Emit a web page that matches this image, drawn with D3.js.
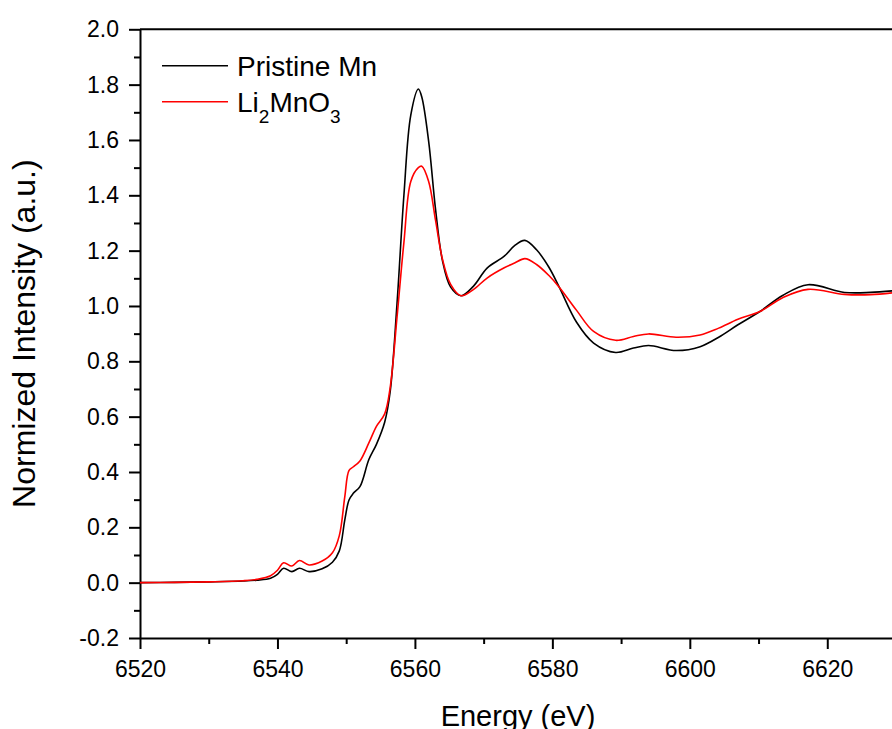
<!DOCTYPE html>
<html>
<head>
<meta charset="utf-8">
<script src="https://cdn.jsdelivr.net/npm/d3@7"></script>
<style>
  body { margin: 0; background: #fff; }
  svg { display: block; font-family: "Liberation Sans", Arial, sans-serif; }
  .axis path, .axis line { stroke: #000; stroke-width: 2px; }
  .axis text { font-size: 23px; fill: #000; font-family: "Liberation Sans", Arial, sans-serif; }
</style>
</head>
<body>
<div id="chart"></div>
<script>
// energy grid (eV)
var energy = [6520, 6525, 6530, 6535, 6537, 6539, 6540, 6540.9, 6542.1, 6543.2, 6544.6, 6546.5,
  6548, 6549, 6549.8, 6550.4, 6551, 6552, 6553.3, 6554.4, 6555.6, 6556.4, 6557.4, 6558.4,
  6559.4, 6560.5, 6561, 6562, 6563, 6564, 6565.2, 6566.7, 6568.5, 6570.5, 6573, 6574.5,
  6576, 6577.7, 6579.5, 6581, 6583.5, 6586, 6589.2, 6591.8, 6594, 6598, 6601.5, 6604.2,
  6607, 6610.2, 6613.5, 6617.2, 6622.5, 6626.3, 6630];

// Pristine Mn
var pristine = [0.000, 0.001, 0.003, 0.006, 0.009, 0.016, 0.030, 0.052, 0.040, 0.052, 0.040, 0.050,
  0.074, 0.115, 0.227, 0.298, 0.322, 0.347, 0.445, 0.500, 0.580, 0.690, 1.010, 1.400,
  1.690, 1.784, 1.755, 1.595, 1.350, 1.165, 1.068, 1.037, 1.071, 1.137, 1.180, 1.218,
  1.237, 1.203, 1.140, 1.068, 0.942, 0.866, 0.832, 0.848, 0.857, 0.839, 0.853, 0.887,
  0.932, 0.980, 1.038, 1.077, 1.049, 1.049, 1.056];

// Li2MnO3
var li2mno3 = [0.000, 0.001, 0.003, 0.007, 0.012, 0.025, 0.045, 0.072, 0.060, 0.080, 0.064, 0.078,
  0.108, 0.170, 0.311, 0.405, 0.418, 0.440, 0.505, 0.565, 0.610, 0.705, 0.960, 1.230,
  1.450, 1.500, 1.505, 1.450, 1.310, 1.170, 1.078, 1.037, 1.059, 1.101, 1.138, 1.155,
  1.171, 1.150, 1.110, 1.068, 0.985, 0.908, 0.876, 0.890, 0.899, 0.887, 0.895, 0.920,
  0.952, 0.980, 1.030, 1.060, 1.042, 1.041, 1.049];

var xTicks = [6520, 6540, 6560, 6580, 6600, 6620];
var yTicks = [-0.2, 0.0, 0.2, 0.4, 0.6, 0.8, 1.0, 1.2, 1.4, 1.6, 1.8, 2.0];

var width = 892, height = 729;
var plotLeft = 140, plotRight = 896, plotTop = 29.3, plotBottom = 638;

var svg = d3.select("#chart").append("svg")
    .attr("width", width)
    .attr("height", height);

var x = d3.scaleLinear().domain([6520, 6630]).range([plotLeft, plotRight]);
var y = d3.scaleLinear().domain([-0.2, 2.0]).range([plotBottom, plotTop]);

// minor ticks
var xMinor = d3.range(6530, 6631, 20);
var yMinor = d3.range(-0.1, 2.0, 0.2);

svg.append("g").attr("class", "axis")
    .attr("transform", "translate(0," + plotBottom + ")")
    .call(d3.axisBottom(x).tickValues(xMinor).tickSize(6).tickFormat(""))
    .select(".domain").remove();

svg.append("g").attr("class", "axis")
    .attr("transform", "translate(" + plotLeft + ",0)")
    .call(d3.axisLeft(y).tickValues(yMinor).tickSize(6).tickFormat(""))
    .select(".domain").remove();

// major axes
svg.append("g").attr("class", "axis")
    .attr("transform", "translate(0," + plotBottom + ")")
    .call(d3.axisBottom(x).tickValues(xTicks).tickSize(11).tickSizeOuter(0).tickPadding(12).tickFormat(d3.format("d")));

svg.append("g").attr("class", "axis")
    .attr("transform", "translate(" + plotLeft + ",0)")
    .call(d3.axisLeft(y).tickValues(yTicks).tickSize(11).tickSizeOuter(0).tickPadding(10)
        .tickFormat(function (d) { return d.toFixed(1); }));

// top frame
svg.append("line")
    .attr("x1", plotLeft).attr("x2", plotRight)
    .attr("y1", plotTop).attr("y2", plotTop)
    .style("stroke", "#000").style("stroke-width", 2);

var line = d3.line()
    .x(function (d, i) { return x(energy[i]); })
    .y(function (d) { return y(d); })
    .curve(d3.curveCatmullRom.alpha(0.5));

svg.append("path")
    .datum(pristine)
    .attr("d", line)
    .style("fill", "none")
    .style("stroke", "#000")
    .style("stroke-width", 1.6);

svg.append("path")
    .datum(li2mno3)
    .attr("d", line)
    .style("fill", "none")
    .style("stroke", "#ff0000")
    .style("stroke-width", 1.6);

// legend
svg.append("line").attr("x1", 162).attr("x2", 228).attr("y1", 65.7).attr("y2", 65.7)
    .style("stroke", "#000").style("stroke-width", 1.6);
svg.append("text").attr("x", 237).attr("y", 76)
    .style("font-size", "28px").text("Pristine Mn");

svg.append("line").attr("x1", 162).attr("x2", 228).attr("y1", 101.7).attr("y2", 101.7)
    .style("stroke", "#ff0000").style("stroke-width", 1.6);
var lt = svg.append("text").attr("x", 237).attr("y", 112).style("font-size", "28px");
lt.append("tspan").text("Li");
lt.append("tspan").attr("dy", 11).style("font-size", "19px").text("2");
lt.append("tspan").attr("dy", -11).text("MnO");
lt.append("tspan").attr("dy", 11).style("font-size", "19px").text("3");

// axis titles
svg.append("text")
    .attr("x", (plotLeft + plotRight) / 2).attr("y", 726)
    .attr("text-anchor", "middle")
    .style("font-size", "29px")
    .text("Energy (eV)");

svg.append("text")
    .attr("transform", "translate(35," + (plotTop + plotBottom) / 2 + ") rotate(-90)")
    .attr("text-anchor", "middle")
    .style("font-size", "32px")
    .text("Normized Intensity (a.u.)");
</script>
</body>
</html>
